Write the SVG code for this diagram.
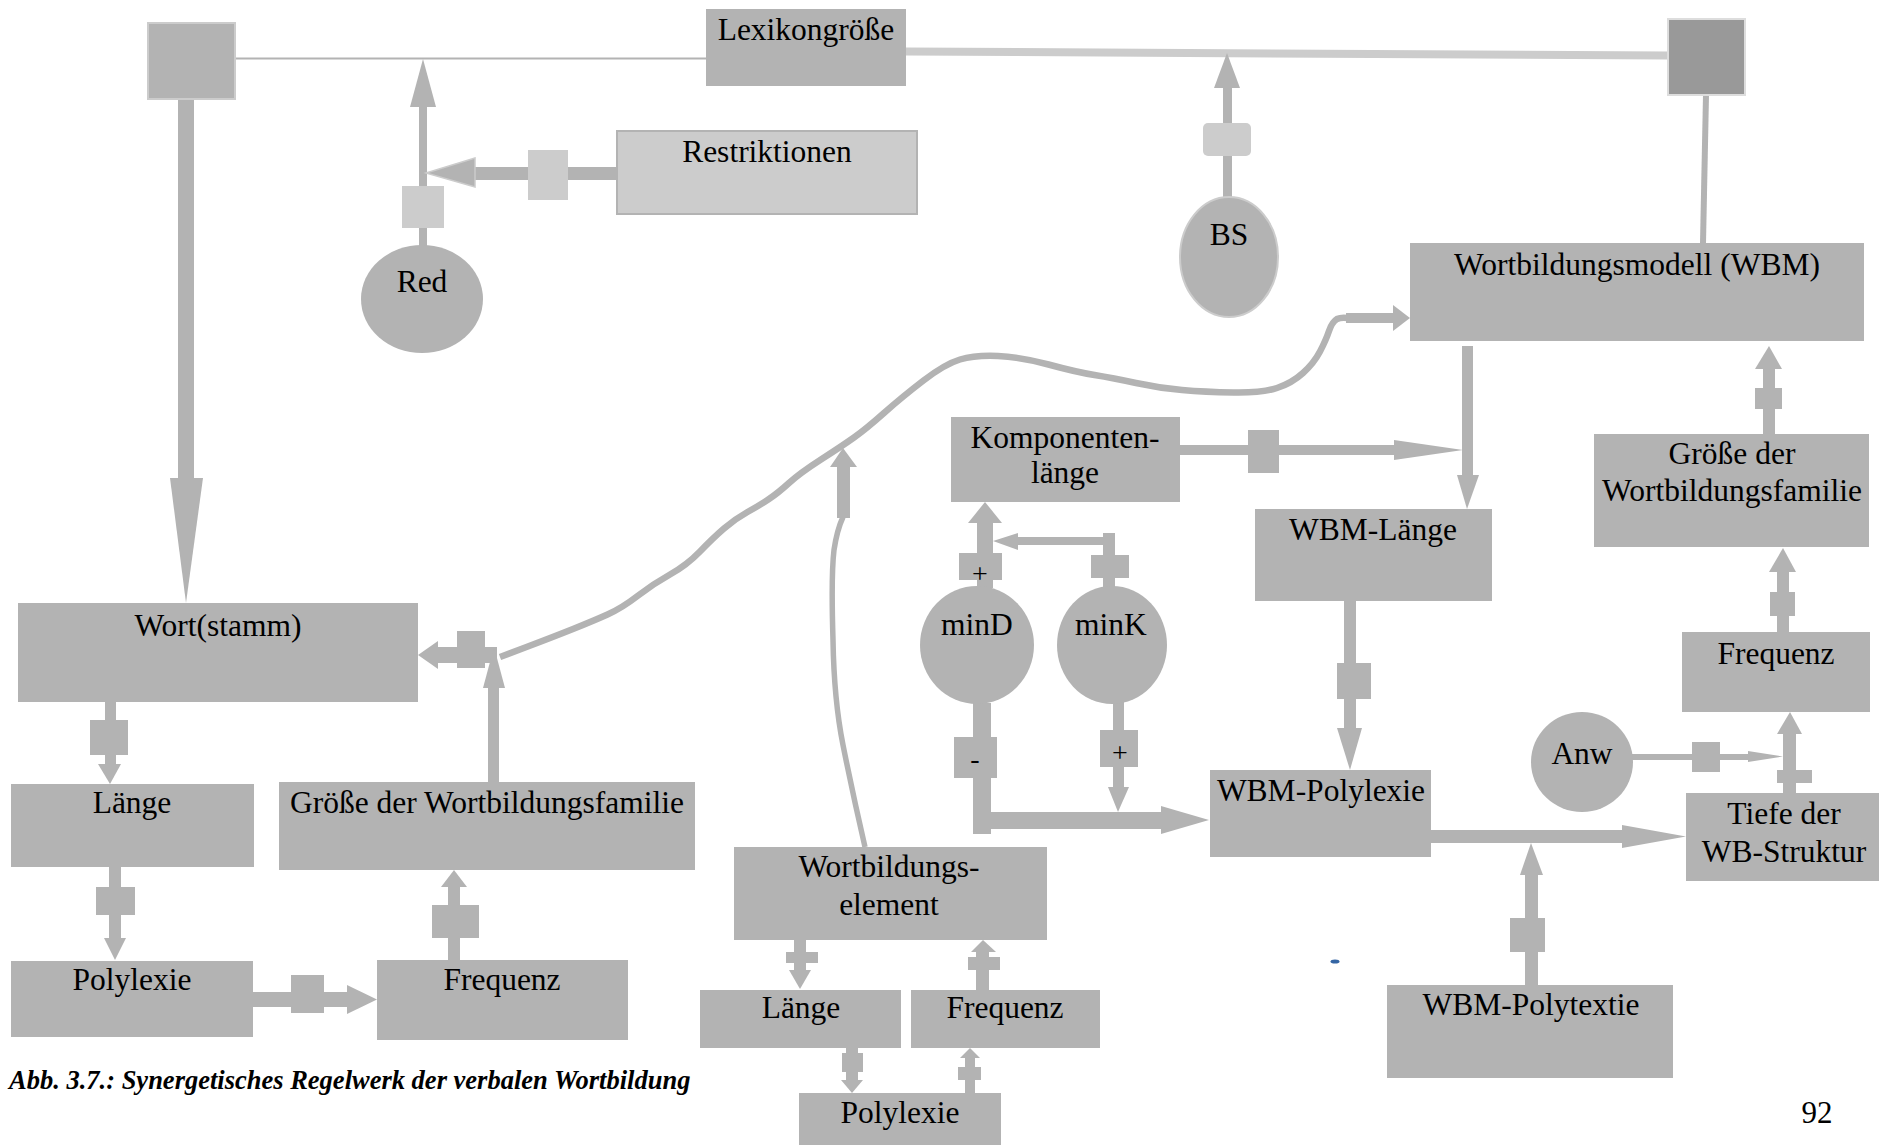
<svg xmlns="http://www.w3.org/2000/svg" width="1887" height="1145" viewBox="0 0 1887 1145">
  <style>
    .box { fill: #b3b3b3; }
    .lt { fill: #cccccc; }
    .t { font-family: "Liberation Serif", "Times New Roman", serif; font-size: 31.5px; fill: #000; text-anchor: middle; }
    .sg { font-family: "Liberation Serif", "Times New Roman", serif; font-size: 28px; fill: #000; text-anchor: middle; }
    .cap { font-family: "Liberation Serif", "Times New Roman", serif; font-size: 26.5px; font-weight: bold; font-style: italic; fill: #000; }
    .c { fill: #b3b3b3; }
    .wire { fill: none; stroke: #b3b3b3; stroke-linecap: butt; stroke-linejoin: round; }
  </style>

  <!-- connectors -->
  <g id="connectors">
    <!-- top rail -->
    <line x1="235" y1="58.5" x2="706" y2="58.5" stroke="#b3b3b3" stroke-width="2"/>
    <line x1="906" y1="51.5" x2="1668" y2="55.5" stroke="#cccccc" stroke-width="8"/>
    <line x1="1706" y1="95" x2="1703" y2="243" stroke="#b3b3b3" stroke-width="6"/>

    <!-- BS -> rail -->
    <rect class="c" x="1223" y="87" width="9" height="110"/>
    <polygon class="c" points="1214,88 1227,53 1240,88"/>
    <rect class="lt" x="1203" y="123" width="48" height="33" rx="5"/>

    <!-- Red -> rail -->
    <rect class="c" x="419" y="106" width="8" height="140"/>
    <polygon class="c" points="410,107 423,59 436,107"/>
    <rect class="lt" x="402" y="186" width="42" height="42"/>

    <!-- Restriktionen -> Red link -->
    <rect class="c" x="474" y="167" width="143" height="13"/>
    <polygon class="c" points="475,158 426,173 475,187" stroke="#cccccc" stroke-width="1.5"/>
    <rect class="lt" x="528" y="150" width="40" height="50"/>

    <!-- left square -> Wort(stamm) -->
    <rect class="c" x="178" y="99" width="16" height="380"/>
    <polygon class="c" points="170,478 186,603 203,478"/>

    <!-- into Wort(stamm) from the right -->
    <polygon class="c" points="418,655 438,641 438,669"/>
    <rect class="c" x="437" y="647" width="60" height="16"/>
    <rect class="c" x="457" y="631" width="28" height="37"/>

    <!-- Größe der Wortbildungsfamilie (left) -> junction -->
    <rect class="c" x="488" y="687" width="11" height="96"/>
    <polygon class="c" points="483,688 494,647 505,688"/>

    <!-- long curve to WBM -->
    <path class="wire" stroke-width="6.5" d="M500,657 L526.5,647 Q553,637 573,629 Q593,621 607.5,614.5 Q622,608 637.5,596 Q653,584 670,574.5 Q687,565 700,551.5 Q713,538 724,528.5 Q735,519 747.5,512 Q760,505 769,499 Q778,493 789,483 Q800,473 821,459.5 Q842,446 854,437.5 Q866,429 884,413 Q902,397 923.5,380.5 Q945,364 960,359.5 Q975,355 998,356 Q1021,357 1048.5,364.5 Q1076,372 1094.5,375 Q1113,378 1136,383 Q1159,388 1182,390 Q1205,392 1233.5,392.5 Q1262,393 1277,388 Q1292,383 1303,373 Q1314,363 1320,351.5 Q1326,340 1329,331 Q1332,322 1337,319 Q1341,317 1348,318"/>
    <rect class="c" x="1346" y="313" width="48" height="10"/>
    <polygon class="c" points="1393,305 1410,318 1393,331"/>

    <!-- Wortbildungselement -> curve -->
    <path class="wire" stroke-width="5.5" d="M865,847 Q853,795 843,745 Q834,700 833,640 Q831,575 834,550 Q837,530 843,517"/>
    <rect class="c" x="837" y="466" width="13" height="52"/>
    <polygon class="c" points="830,467 843,448 857,467"/>

    <!-- Komponentenlänge -> WBM-Länge link -->
    <rect class="c" x="1180" y="445" width="215" height="10"/>
    <polygon class="c" points="1394,440 1463,450 1394,460"/>
    <rect class="c" x="1248" y="430" width="31" height="43"/>

    <!-- WBM -> WBM-Länge -->
    <rect class="c" x="1462" y="346" width="11" height="130"/>
    <polygon class="c" points="1457,475 1467,509 1479,475"/>

    <!-- minD -> Komponentenlänge -->
    <rect class="c" x="977" y="522" width="16" height="66"/>
    <polygon class="c" points="968,523 985,502 1002,523"/>
    <rect class="c" x="959" y="553" width="43" height="27"/>
    <text class="sg" x="980" y="583">+</text>

    <!-- minK -> minD link -->
    <rect class="c" x="1103" y="533" width="12" height="55"/>
    <rect class="c" x="1017" y="537" width="98" height="8"/>
    <polygon class="c" points="1018,533 993,541 1018,550"/>
    <rect class="c" x="1091" y="555" width="38" height="23"/>

    <!-- minD -> WBM-Polylexie -->
    <rect class="c" x="973" y="703" width="18" height="131"/>
    <rect class="c" x="973" y="812" width="189" height="17"/>
    <polygon class="c" points="1161,806 1209,820 1161,834"/>
    <rect class="c" x="954" y="737" width="43" height="41"/>
    <text class="sg" x="975" y="768">-</text>

    <!-- minK -> WBM-Polylexie link -->
    <rect class="c" x="1113" y="702" width="11" height="86"/>
    <polygon class="c" points="1108,787 1118,812 1129,787"/>
    <rect class="c" x="1100" y="730" width="38" height="37"/>
    <text class="sg" x="1120" y="762">+</text>

    <!-- WBM-Länge -> WBM-Polylexie -->
    <rect class="c" x="1344" y="600" width="12" height="129"/>
    <polygon class="c" points="1337,728 1350,770 1362,728"/>
    <rect class="c" x="1337" y="663" width="34" height="36"/>

    <!-- WBM-Polylexie -> Tiefe der WB-Struktur -->
    <rect class="c" x="1430" y="830" width="193" height="13"/>
    <polygon class="c" points="1622,825 1686,836.5 1622,848"/>

    <!-- WBM-Polytextie -> link -->
    <rect class="c" x="1525" y="874" width="13" height="112"/>
    <polygon class="c" points="1520,875 1531,843 1543,875"/>
    <rect class="c" x="1510" y="918" width="35" height="34"/>

    <!-- Anw -> link -->
    <rect class="c" x="1632" y="754" width="117" height="6"/>
    <polygon class="c" points="1748,751 1783,756.5 1748,762"/>
    <rect class="c" x="1692" y="742" width="28" height="30"/>

    <!-- Tiefe der WB-Struktur -> Frequenz -->
    <rect class="c" x="1783" y="733" width="13" height="61"/>
    <polygon class="c" points="1777,734 1790,712 1802,734"/>
    <rect class="c" x="1777" y="770" width="35" height="13"/>

    <!-- Frequenz -> Größe der Wortbildungsfamilie (right) -->
    <rect class="c" x="1777" y="571" width="12" height="62"/>
    <polygon class="c" points="1769,572 1783,548 1796,572"/>
    <rect class="c" x="1770" y="592" width="25" height="24"/>

    <!-- Größe der Wortbildungsfamilie (right) -> WBM -->
    <rect class="c" x="1763" y="368" width="12" height="67"/>
    <polygon class="c" points="1755,369 1769,346 1782,369"/>
    <rect class="c" x="1755" y="388" width="27" height="21"/>

    <!-- Wort(stamm) -> Länge -->
    <rect class="c" x="105" y="701" width="11" height="64"/>
    <polygon class="c" points="98,764 110,784 121,764"/>
    <rect class="c" x="90" y="720" width="38" height="35"/>

    <!-- Länge -> Polylexie -->
    <rect class="c" x="109" y="866" width="12" height="73"/>
    <polygon class="c" points="104,938 115,960 126,938"/>
    <rect class="c" x="96" y="887" width="39" height="28"/>

    <!-- Polylexie -> Frequenz -->
    <rect class="c" x="252" y="992" width="96" height="15"/>
    <polygon class="c" points="347,985 377,999.5 347,1014"/>
    <rect class="c" x="291" y="975" width="33" height="38"/>

    <!-- Frequenz -> Größe der Wortbildungsfamilie (left) -->
    <rect class="c" x="448" y="886" width="12" height="75"/>
    <polygon class="c" points="441,887 454,870 467,887"/>
    <rect class="c" x="432" y="905" width="47" height="33"/>

    <!-- Wortbildungselement -> Länge -->
    <rect class="c" x="794" y="939" width="12" height="32"/>
    <polygon class="c" points="789,970 800,989 811,970"/>
    <rect class="c" x="786" y="952" width="32" height="11"/>

    <!-- Frequenz -> Wortbildungselement -->
    <rect class="c" x="976" y="951" width="13" height="40"/>
    <polygon class="c" points="971,952 983,940 996,952"/>
    <rect class="c" x="968" y="957" width="32" height="13"/>

    <!-- Länge -> Polylexie -->
    <rect class="c" x="846" y="1047" width="12" height="34"/>
    <polygon class="c" points="841,1080 852,1093 863,1080"/>
    <rect class="c" x="842" y="1053" width="21" height="19"/>

    <!-- Polylexie -> Frequenz -->
    <rect class="c" x="965" y="1057" width="10" height="37"/>
    <polygon class="c" points="960,1058 970,1048 980,1058"/>
    <rect class="c" x="958" y="1067" width="23" height="13"/>
  </g>

  <!-- nodes -->
  <g id="n-sq-left"><rect class="box" x="148" y="23" width="87" height="76" stroke="#cccccc" stroke-width="2"/></g>
  <g id="n-lexikon"><rect class="box" x="706" y="9" width="200" height="77"/><text class="t" x="806" y="40">Lexikongröße</text></g>
  <g id="n-sq-right"><rect x="1668" y="19" width="77" height="76" fill="#999999" stroke="#dddddd" stroke-width="2"/></g>
  <g id="n-restr"><rect class="lt" x="617" y="131" width="300" height="83" stroke="#b3b3b3" stroke-width="2"/><text class="t" x="767" y="162">Restriktionen</text></g>
  <g id="n-red"><ellipse class="box" cx="422" cy="299" rx="61" ry="54"/><text class="t" x="422" y="292">Red</text></g>
  <g id="n-bs"><ellipse class="box" cx="1229" cy="257" rx="49" ry="60" stroke="#cccccc" stroke-width="2"/><text class="t" x="1229" y="245">BS</text></g>
  <g id="n-wbm"><rect class="box" x="1410" y="243" width="454" height="98"/><text class="t" x="1637" y="275">Wortbildungsmodell (WBM)</text></g>
  <g id="n-wort"><rect class="box" x="18" y="603" width="400" height="99"/><text class="t" x="218" y="636">Wort(stamm)</text></g>
  <g id="n-komp"><rect class="box" x="951" y="417" width="229" height="85"/><text class="t" x="1065" y="448">Komponenten-</text><text class="t" x="1065" y="483">länge</text></g>
  <g id="n-wbm-laenge"><rect class="box" x="1255" y="509" width="237" height="92"/><text class="t" x="1373" y="540">WBM-Länge</text></g>
  <g id="n-groesse-r"><rect class="box" x="1594" y="434" width="275" height="113"/><text class="t" x="1732" y="464">Größe der</text><text class="t" x="1732" y="501">Wortbildungsfamilie</text></g>
  <g id="n-mind"><ellipse class="box" cx="977" cy="645" rx="57" ry="59"/><text class="t" x="977" y="635">minD</text></g>
  <g id="n-mink"><ellipse class="box" cx="1112" cy="645" rx="55" ry="59"/><text class="t" x="1111" y="635">minK</text></g>
  <g id="n-freq-r"><rect class="box" x="1682" y="632" width="188" height="80"/><text class="t" x="1776" y="664">Frequenz</text></g>
  <g id="n-anw"><ellipse class="box" cx="1582" cy="762" rx="51" ry="50"/><text class="t" x="1582" y="764">Anw</text></g>
  <g id="n-tiefe"><rect class="box" x="1686" y="793" width="193" height="88"/><text class="t" x="1784" y="824">Tiefe der</text><text class="t" x="1784" y="862">WB-Struktur</text></g>
  <g id="n-wbm-polylexie"><rect class="box" x="1210" y="770" width="221" height="87"/><text class="t" x="1321" y="801">WBM-Polylexie</text></g>
  <g id="n-wbm-polytextie"><rect class="box" x="1387" y="985" width="286" height="93"/><text class="t" x="1531" y="1015">WBM-Polytextie</text></g>
  <g id="n-laenge-l"><rect class="box" x="11" y="784" width="243" height="83"/><text class="t" x="132" y="813">Länge</text></g>
  <g id="n-groesse-l"><rect class="box" x="279" y="782" width="416" height="88"/><text class="t" x="487" y="813">Größe der Wortbildungsfamilie</text></g>
  <g id="n-poly-l"><rect class="box" x="11" y="961" width="242" height="76"/><text class="t" x="132" y="990">Polylexie</text></g>
  <g id="n-freq-l"><rect class="box" x="377" y="960" width="251" height="80"/><text class="t" x="502" y="990">Frequenz</text></g>
  <g id="n-wbelement"><rect class="box" x="734" y="847" width="313" height="93"/><text class="t" x="889" y="877">Wortbildungs-</text><text class="t" x="889" y="915">element</text></g>
  <g id="n-laenge-m"><rect class="box" x="700" y="990" width="201" height="58"/><text class="t" x="801" y="1018">Länge</text></g>
  <g id="n-freq-m"><rect class="box" x="911" y="990" width="189" height="58"/><text class="t" x="1005" y="1018">Frequenz</text></g>
  <g id="n-poly-m"><rect class="box" x="799" y="1093" width="202" height="52"/><text class="t" x="900" y="1123">Polylexie</text></g>

  <!-- stray mark -->
  <ellipse cx="1335" cy="961.5" rx="4.5" ry="2" fill="#3465a4"/>

  <!-- caption and page number -->
  <text class="cap" x="9" y="1089">Abb. 3.7.: Synergetisches Regelwerk der verbalen Wortbildung</text>
  <text class="t" x="1817" y="1123" style="font-size:31px">92</text>
</svg>
